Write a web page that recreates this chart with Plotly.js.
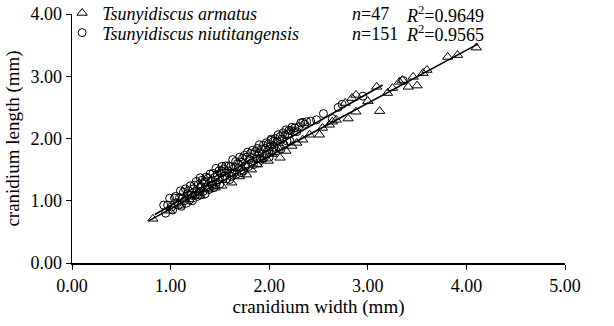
<!DOCTYPE html>
<html>
<head>
<meta charset="utf-8">
<script src="https://cdn.plot.ly/plotly-3.0.1.min.js"></script>
<style>
  html, body { margin: 0; padding: 0; background: #fff; }
  #chart { width: 614px; height: 326px; }
</style>
</head>
<body>
<div id="chart"></div>
<script>
// Tsunyidiscus armatus: cranidium width / length (mm), n = 47
const armatusWidth = [0.82, 0.99, 1.09, 1.19, 1.30, 1.38, 1.45, 1.52, 1.62, 1.70,
  1.77, 1.82, 1.88, 1.92, 1.99, 2.03, 2.11, 2.17, 2.23, 2.28,
  2.34, 2.41, 2.51, 2.54, 2.61, 2.64, 2.68, 2.77, 2.80, 2.84,
  2.88, 2.88, 3.00, 3.09, 3.12, 3.20, 3.25, 3.32, 3.35, 3.41,
  3.46, 3.50, 3.56, 3.60, 3.81, 3.91, 4.10];
const armatusLength = [0.71, 0.84, 0.92, 1.02, 1.08, 1.18, 1.21, 1.24, 1.29, 1.39,
  1.42, 1.50, 1.58, 1.66, 1.64, 1.75, 1.69, 1.80, 1.88, 1.93,
  1.98, 2.06, 2.06, 2.17, 2.22, 2.27, 2.30, 2.57, 2.32, 2.65,
  2.70, 2.43, 2.60, 2.83, 2.44, 2.73, 2.81, 2.91, 2.94, 2.83,
  2.99, 2.85, 3.05, 3.10, 3.31, 3.34, 3.46];

// Tsunyidiscus niutitangensis: cranidium width / length (mm), n = 151
const niutWidth = [0.93, 0.95, 0.97, 0.99, 1.01, 1.02, 1.04, 1.05, 1.07, 1.08,
  1.09, 1.10, 1.11, 1.12, 1.13, 1.14, 1.15, 1.16, 1.17, 1.18,
  1.19, 1.20, 1.21, 1.22, 1.23, 1.24, 1.25, 1.26, 1.27, 1.27,
  1.28, 1.29, 1.30, 1.30, 1.31, 1.32, 1.33, 1.34, 1.35, 1.36,
  1.37, 1.38, 1.39, 1.40, 1.41, 1.42, 1.43, 1.44, 1.45, 1.46,
  1.46, 1.47, 1.48, 1.49, 1.50, 1.51, 1.52, 1.53, 1.54, 1.55,
  1.56, 1.57, 1.58, 1.59, 1.60, 1.61, 1.62, 1.63, 1.64, 1.65,
  1.66, 1.67, 1.68, 1.69, 1.70, 1.71, 1.72, 1.73, 1.74, 1.75,
  1.76, 1.77, 1.78, 1.79, 1.80, 1.81, 1.82, 1.83, 1.84, 1.85,
  1.86, 1.87, 1.88, 1.89, 1.90, 1.90, 1.91, 1.92, 1.93, 1.94,
  1.95, 1.96, 1.97, 1.98, 1.99, 2.00, 2.01, 2.02, 2.03, 2.04,
  2.05, 2.06, 2.07, 2.08, 2.09, 2.10, 2.11, 2.12, 2.13, 2.14,
  2.15, 2.16, 2.17, 2.18, 2.19, 2.20, 2.21, 2.22, 2.23, 2.25,
  2.26, 2.28, 2.30, 2.32, 2.34, 2.36, 2.38, 2.42, 2.48, 2.55,
  2.64, 2.70, 2.74, 2.95, 3.36, 1.18, 1.52, 1.72, 1.35, 1.62,
  2.02];
const niutLength = [0.93, 0.80, 0.93, 1.04, 0.90, 0.85, 1.04, 1.07, 0.97, 0.93,
  1.05, 1.16, 0.91, 1.04, 1.14, 1.00, 1.19, 0.96, 1.11, 1.16,
  1.01, 1.24, 1.09, 1.00, 1.19, 1.25, 1.09, 1.31, 1.16, 1.07,
  1.26, 1.14, 1.37, 1.09, 1.23, 1.33, 1.15, 1.30, 1.11, 1.38,
  1.22, 1.36, 1.18, 1.43, 1.31, 1.25, 1.44, 1.21, 1.38, 1.52,
  1.26, 1.42, 1.34, 1.48, 1.27, 1.44, 1.55, 1.35, 1.51, 1.40,
  1.56, 1.35, 1.48, 1.56, 1.34, 1.55, 1.45, 1.66, 1.44, 1.54,
  1.63, 1.43, 1.60, 1.53, 1.70, 1.49, 1.62, 1.68, 1.48, 1.73,
  1.56, 1.70, 1.78, 1.55, 1.66, 1.76, 1.61, 1.81, 1.58, 1.75,
  1.79, 1.67, 1.84, 1.61, 1.90, 1.76, 1.67, 1.83, 1.75, 1.89,
  1.69, 1.84, 1.93, 1.75, 1.91, 1.70, 1.87, 1.99, 1.79, 1.95,
  1.86, 2.00, 1.80, 1.96, 2.06, 1.87, 2.03, 1.83, 1.99, 2.09,
  1.90, 2.06, 2.14, 1.96, 2.07, 2.13, 1.96, 2.13, 2.18, 2.11,
  2.17, 2.11, 2.19, 2.25, 2.26, 2.23, 2.27, 2.28, 2.30, 2.40,
  2.32, 2.50, 2.55, 2.68, 2.93, 1.09, 1.48, 1.45, 1.31, 1.39,
  1.97];

// Least-squares fit lines (end points, mm)
const armatusFitX = [0.78, 4.12];
const armatusFitY = [0.68, 3.52];
const niutFitX = [0.84, 3.15];
const niutFitY = [0.78, 2.86];

// Legend statistics
const sampleSizes = [47, 151];
const rSquared = ['0.9649', '0.9565'];

const serif = "'Liberation Serif', 'Times New Roman', Times, serif";

const traces = [
  {
    x: armatusWidth, y: armatusLength, type: 'scatter', mode: 'markers',
    name: '<i>Tsunyidiscus armatus</i>', legend: 'legend',
    marker: { symbol: 'triangle-up-open', size: 9, color: '#000', line: { width: 1, color: '#000' } }
  },
  {
    x: niutWidth, y: niutLength, type: 'scatter', mode: 'markers',
    name: '<i>Tsunyidiscus niutitangensis</i>', legend: 'legend2',
    marker: { symbol: 'circle-open', size: 8, color: '#000', line: { width: 1, color: '#000' } }
  },
  {
    x: armatusFitX, y: armatusFitY, type: 'scatter', mode: 'lines',
    showlegend: false, hoverinfo: 'skip',
    line: { color: '#000', width: 1.6 }
  },
  {
    x: niutFitX, y: niutFitY, type: 'scatter', mode: 'lines',
    showlegend: false, hoverinfo: 'skip',
    line: { color: '#000', width: 1.6 }
  }
];

// n and R² columns beside the legend entries
const rowY = [4.0, 3.68];
const annotations = [];
sampleSizes.forEach((n, i) => {
  annotations.push({
    x: 2.82, y: rowY[i], xref: 'x', yref: 'y', xanchor: 'left', yanchor: 'middle',
    text: '<i>n</i>=' + n, showarrow: false,
    font: { family: serif, size: 18, color: '#000' }
  });
  annotations.push({
    x: 3.37, y: rowY[i], xref: 'x', yref: 'y', xanchor: 'left', yanchor: 'middle',
    text: '<i>R</i><sup>2</sup>=' + rSquared[i], showarrow: false,
    font: { family: serif, size: 18, color: '#000' }
  });
});

// one single-entry legend per row so the two rows sit 20 px apart
const legendStyle = (y) => ({
  x: -0.02, y: y, xanchor: 'left', yanchor: 'middle',
  bgcolor: 'rgba(0,0,0,0)', borderwidth: 0,
  font: { family: serif, size: 18, color: '#000' },
  tracegroupgap: 0, itemwidth: 30
});

const layout = {
  width: 614, height: 326,
  margin: { l: 72, r: 49, t: 14, b: 63, autoexpand: false },
  paper_bgcolor: '#fff', plot_bgcolor: '#fff',
  font: { family: serif, size: 18, color: '#000' },
  showlegend: true,
  legend: legendStyle(1.003),
  legend2: legendStyle(0.924),
  xaxis: {
    range: [0, 5], dtick: 1, tick0: 0, tickformat: '.2f',
    showgrid: false, zeroline: false,
    showline: true, linecolor: '#000', linewidth: 2,
    ticks: 'outside', ticklen: 5, tickcolor: '#000', tickwidth: 1,
    tickfont: { family: serif, size: 18, color: '#000' },
    title: { text: 'cranidium width (mm)', font: { family: serif, size: 19, color: '#000' }, standoff: 3 }
  },
  yaxis: {
    range: [0, 4], dtick: 1, tick0: 0, tickformat: '.2f',
    showgrid: false, zeroline: false,
    showline: true, linecolor: '#000', linewidth: 1.5,
    ticks: 'outside', ticklen: 5, tickcolor: '#000', tickwidth: 1,
    tickfont: { family: serif, size: 18, color: '#000' },
    title: { text: 'cranidium length (mm)', font: { family: serif, size: 19, color: '#000' }, standoff: 6 }
  },
  annotations: annotations
};

Plotly.newPlot('chart', traces, layout, { staticPlot: true, displayModeBar: false });
</script>
</body>
</html>
